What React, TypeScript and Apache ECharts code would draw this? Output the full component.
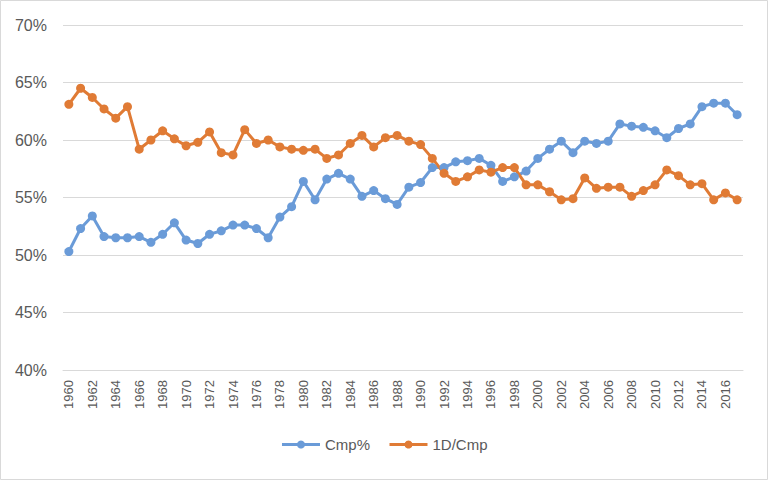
import React, { useEffect, useRef } from "react";
import * as echarts from "echarts";

const years: string[] = [];
for (let y = 1960; y <= 2017; y++) years.push(String(y));

const cmpPct = [
  50.3, 52.3, 53.4, 51.6, 51.5, 51.5, 51.6, 51.1, 51.8, 52.8,
  51.3, 51.0, 51.8, 52.1, 52.6, 52.6, 52.3, 51.5, 53.3, 54.2,
  56.4, 54.8, 56.6, 57.1, 56.6, 55.1, 55.6, 54.9, 54.4, 55.9,
  56.3, 57.6, 57.6, 58.1, 58.2, 58.4, 57.8, 56.4, 56.8, 57.3,
  58.4, 59.2, 59.9, 58.9, 59.9, 59.7, 59.9, 61.4, 61.2, 61.1,
  60.8, 60.2, 61.0, 61.4, 62.9, 63.2, 63.2, 62.2,
];

const oneDPerCmp = [
  63.1, 64.5, 63.7, 62.7, 61.9, 62.9, 59.2, 60.0, 60.8, 60.1,
  59.5, 59.8, 60.7, 58.9, 58.7, 60.9, 59.7, 60.0, 59.4, 59.2,
  59.1, 59.2, 58.4, 58.7, 59.7, 60.4, 59.4, 60.2, 60.4, 59.9,
  59.6, 58.4, 57.1, 56.4, 56.8, 57.4, 57.2, 57.6, 57.6, 56.1,
  56.1, 55.5, 54.8, 54.9, 56.7, 55.8, 55.9, 55.9, 55.1, 55.6,
  56.1, 57.4, 56.9, 56.1, 56.2, 54.8, 55.4, 54.8,
];

const BLUE = "#6A9BD8";
const ORANGE = "#E07B35";
const FONT = "'Liberation Sans', Arial, sans-serif";

export default function App() {
  const ref = useRef<HTMLDivElement>(null);
  useEffect(() => {
    if (!ref.current) return;
    const chart = echarts.init(ref.current, undefined, { renderer: "svg" });
    chart.setOption({
      animation: false,
      backgroundColor: "#ffffff",
      textStyle: { fontFamily: FONT },
      graphic: [
        {
          type: "rect",
          shape: { x: 0.5, y: 0.5, width: 767, height: 479 },
          style: { fill: "none", stroke: "#d9d9d9", lineWidth: 1 },
          silent: true,
        },
      ],
      grid: { left: 63, right: 25, top: 25, bottom: 110 },
      legend: {
        bottom: 23,
        left: "center",
        itemWidth: 38,
        itemHeight: 10,
        itemGap: 18,
        lineStyle: { width: 3 },
        textStyle: { color: "#595959", fontSize: 15, fontFamily: FONT },
        data: ["Cmp%", "1D/Cmp"],
      },
      xAxis: {
        type: "category",
        data: years,
        boundaryGap: true,
        axisLine: { show: true, lineStyle: { color: "#d9d9d9", width: 1 } },
        axisTick: { show: false },
        axisLabel: {
          interval: 1,
          rotate: 90,
          color: "#595959",
          fontSize: 13,
          margin: 10,
          fontFamily: FONT,
        },
      },
      yAxis: {
        type: "value",
        min: 40,
        max: 70,
        interval: 5,
        axisLine: { show: false },
        axisTick: { show: false },
        splitLine: { lineStyle: { color: "#d9d9d9", width: 1 } },
        axisLabel: {
          formatter: "{value}%",
          color: "#595959",
          fontSize: 16,
          margin: 16,
          fontFamily: FONT,
        },
      },
      series: [
        {
          name: "Cmp%",
          type: "line",
          data: cmpPct,
          symbol: "circle",
          symbolSize: 9,
          showAllSymbol: true,
          lineStyle: { color: BLUE, width: 3 },
          itemStyle: { color: BLUE },
        },
        {
          name: "1D/Cmp",
          type: "line",
          data: oneDPerCmp,
          symbol: "circle",
          symbolSize: 9,
          showAllSymbol: true,
          lineStyle: { color: ORANGE, width: 3 },
          itemStyle: { color: ORANGE },
        },
      ],
    });
    return () => chart.dispose();
  }, []);
  return (
    <div
      ref={ref}
      style={{ position: "fixed", left: 0, top: 0, width: 768, height: 480 }}
    />
  );
}
